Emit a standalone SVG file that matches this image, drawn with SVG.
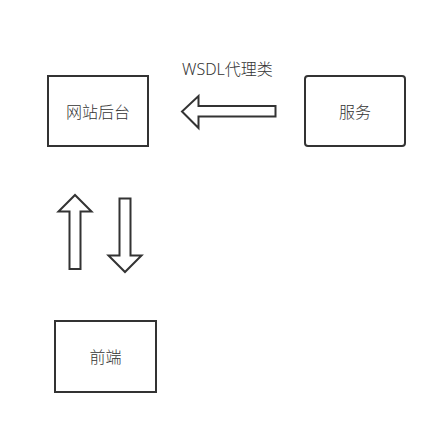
<svg xmlns="http://www.w3.org/2000/svg" width="436" height="424" viewBox="0 0 436 424">
<style>
.box{fill:#fff;stroke:#333;stroke-width:2}
.arr{fill:#fff;stroke:#333;stroke-width:2;stroke-linejoin:miter}
.t{font-family:"Noto Sans","Noto Sans CJK SC",sans-serif;font-size:16px;font-weight:300;fill:#333;text-anchor:middle;dominant-baseline:central}
</style>
<rect width="436" height="424" fill="#fff"/>
<g id="backend">
<rect class="box" x="48" y="76" width="100" height="70"/>
<text class="t" x="98" y="111.5">网站后台</text>
</g>
<g id="service">
<rect class="box" x="305" y="76" width="100" height="70" rx="3"/>
<text class="t" x="355" y="111.5">服务</text>
</g>
<g id="frontend">
<rect class="box" x="55" y="321" width="101" height="71"/>
<text class="t" x="105.5" y="357">前端</text>
</g>
<g id="connectors">
<polygon class="arr" points="275.5,106 198.5,106 198.5,96 182,111.5 198.5,128 198.5,116.5 275.5,116.5"/>
<text class="t" x="227.5" y="68.5">WSDL代理类</text>
<polygon class="arr" points="69.5,269 69.5,211.5 58.5,211.5 75,195 91.5,211.5 80.5,211.5 80.5,269"/>
<polygon class="arr" points="119.5,198.5 130.5,198.5 130.5,255.5 141.5,255.5 125,272 108.5,255.5 119.5,255.5"/>
</g>
</svg>
